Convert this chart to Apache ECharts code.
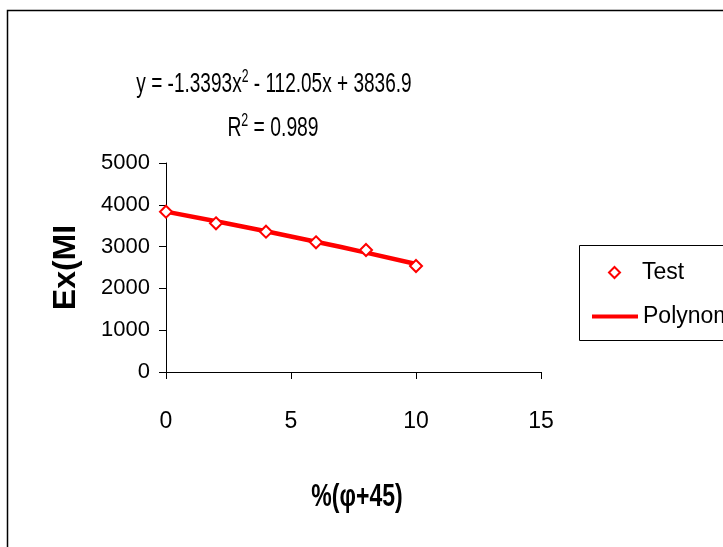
<!DOCTYPE html>
<html><head><meta charset="utf-8">
<script src="https://cdn.jsdelivr.net/npm/echarts@6/dist/echarts.min.js"></script>
<style>html,body{margin:0;padding:0;background:#fff}#c{width:723px;height:547px}</style>
</head><body><div id="c"></div>
<script>
const testX = [0, 2, 4, 6, 8, 10];
const testY = [3835, 3557, 3357, 3103, 2919, 2536];
const fitX = [0, 2, 4, 6, 8, 10];
const fitY = [3837, 3607, 3366, 3117, 2856, 2583];
const xTicks = [0, 5, 10, 15];
const yTicks = [0, 1000, 2000, 3000, 4000, 5000];
const eqText = 'y = -1.3393x{s|2} - 112.05x + 3836.9';
const r2Text = 'R{s|2} = 0.989';
const xTitle = '%(\u03C6+45)';
const yTitle = 'Ex(MI';
const FONT = "'Liberation Sans', Arial, sans-serif";

const chart = echarts.init(document.getElementById('c'));
chart.setOption({
  backgroundColor: '#fff',
  animation: false,
  textStyle: {fontFamily: FONT},
  grid: {left: 166, right: 182, top: 163, bottom: 175, containLabel: false},
  xAxis: {
    type: 'value', min: xTicks[0], max: xTicks[xTicks.length-1], interval: 5,
    splitLine: {show: false},
    axisLine: {lineStyle: {color: '#000', width: 1}},
    axisTick: {show: true, inside: false, length: 7, lineStyle: {color: '#000'}},
    axisLabel: {margin: 38, fontSize: 23, color: '#000', fontFamily: FONT, formatter: v => String(v)}
  },
  yAxis: {
    type: 'value', min: yTicks[0], max: yTicks[yTicks.length-1], interval: 1000,
    splitLine: {show: false},
    axisLine: {show: true, lineStyle: {color: '#000', width: 1}},
    axisTick: {show: true, inside: false, length: 7, lineStyle: {color: '#000'}},
    axisLabel: {margin: 16, fontSize: 22, color: '#000', fontFamily: FONT, formatter: v => String(v)},
    name: yTitle, nameLocation: 'middle', nameGap: 84, nameRotate: 90,
    nameTextStyle: {fontSize: 32, fontWeight: 'bold', color: '#000', fontFamily: FONT}
  },
  legend: [
    {data: [{name: 'Test', icon: 'diamond'}], left: 603, top: 256, itemWidth: 11, itemHeight: 11,
     textStyle: {fontSize: 23, color: '#000', padding: [0,0,0,17], fontFamily: FONT}},
    {data: [{name: 'Polynomial', icon: 'rect'}], left: 587, top: 300, itemWidth: 46, itemHeight: 4,
     textStyle: {fontSize: 23, color: '#000', padding: [0,0,0,0], fontFamily: FONT}}
  ],
  graphic: [
    {type: 'rect', shape: {x: 7.5, y: 10.5, width: 800, height: 600}, style: {fill: 'none', stroke: '#000', lineWidth: 1.5}, z: 100, silent: true},
    {type: 'rect', shape: {x: 579.5, y: 245.5, width: 300, height: 95}, style: {fill: 'none', stroke: '#000', lineWidth: 1}, z: 100, silent: true},
    {type: 'text', x: 274, y: 84, scaleX: 0.68, silent: true,
     style: {text: eqText, x: 0, y: 0, align: 'center', verticalAlign: 'middle', fontSize: 28, fill: '#000', fontFamily: FONT,
             rich: {s: {fontSize: 18, padding: [0,0,14,0]}}}},
    {type: 'text', x: 273, y: 128, scaleX: 0.69, silent: true,
     style: {text: r2Text, x: 0, y: 0, align: 'center', verticalAlign: 'middle', fontSize: 28, fill: '#000', fontFamily: FONT,
             rich: {s: {fontSize: 18, padding: [0,0,14,0]}}}},
    {type: 'text', x: 357, y: 497, scaleX: 0.72, silent: true,
     style: {text: xTitle, x: 0, y: 0, align: 'center', verticalAlign: 'middle', fontSize: 32, fontWeight: 'bold', fill: '#000', fontFamily: FONT}}
  ],
  series: [
    {name: 'Polynomial', type: 'line', data: fitX.map((x,i)=>[x, fitY[i]]), showSymbol: false, symbol: 'none',
     lineStyle: {color: '#ff0000', width: 4.5}, itemStyle: {color: '#ff0000'}, smooth: true, z: 2},
    {name: 'Test', type: 'scatter', data: testX.map((x,i)=>[x, testY[i]]), symbol: 'diamond', symbolSize: 12,
     itemStyle: {color: '#ffffff', borderColor: '#ff0000', borderWidth: 2, opacity: 1}, z: 3}
  ]
});
</script></body></html>
